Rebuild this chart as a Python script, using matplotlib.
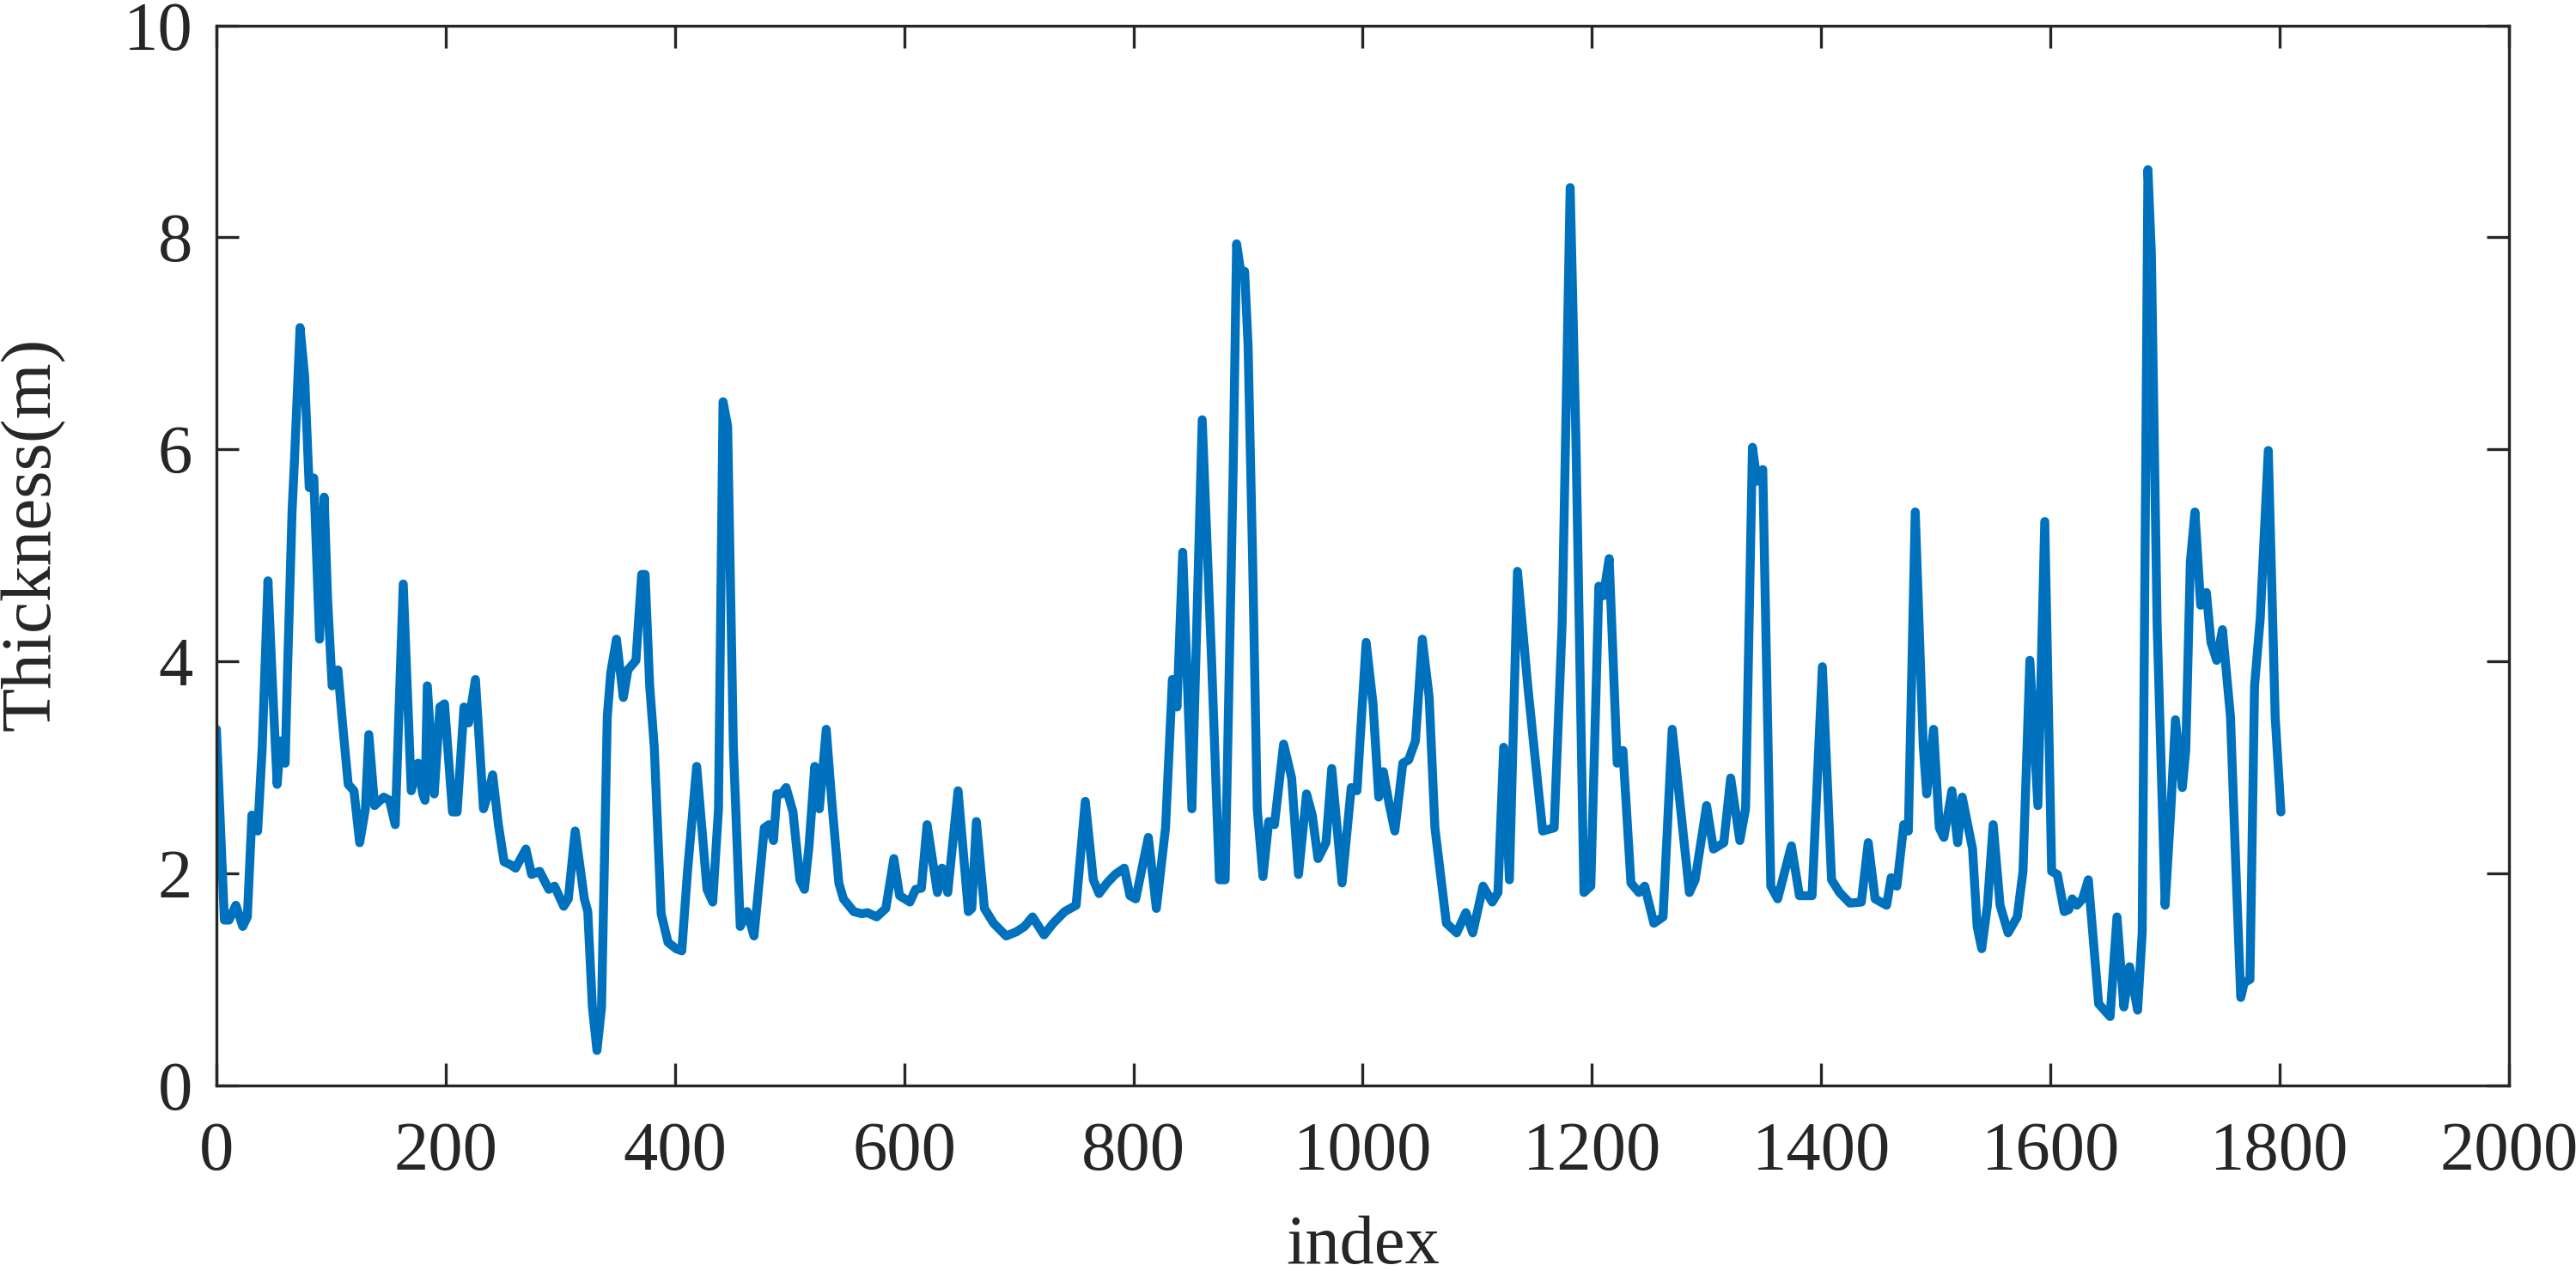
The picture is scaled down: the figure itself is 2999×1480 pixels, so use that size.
import matplotlib
matplotlib.use("Agg")
import matplotlib.pyplot as plt

plt.rcParams['font.family'] = ['Liberation Serif', 'DejaVu Serif']

# index / thickness
idx = [0, 7, 11, 17, 23, 27, 31, 36, 40, 45, 49, 53, 56, 60, 62, 66, 68, 73, 77, 81,
       85, 90, 94, 97, 101, 106, 110, 115, 120, 125, 130, 133, 138, 146, 151, 156, 163, 170, 176, 180,
       182, 184, 190, 195, 199, 206, 210, 216, 220, 226, 233, 237, 241, 246, 251, 257, 261, 270, 275, 282,
       290, 295, 303, 307, 313, 321, 324, 328, 332, 336, 341, 344, 349, 355, 359, 366, 371, 374, 378, 382,
       388, 394, 401, 406, 411, 419, 428, 433, 438, 442, 446, 451, 457, 463, 469, 478, 482, 486, 489, 493,
       497, 503, 509, 513, 517, 522, 526, 532, 537, 543, 547, 556, 563, 568, 576, 584, 591, 596, 605, 610,
       615, 620, 629, 633, 638, 647, 656, 659, 663, 670, 678, 689, 698, 705, 712, 722, 730, 740, 750, 758,
       765, 770, 777, 784, 792, 797, 802, 813, 820, 828, 834, 838, 843, 851, 860, 868, 875, 880, 887, 890,
       894, 897, 900, 904, 908, 913, 918, 923, 931, 938, 944, 951, 956, 961, 968, 973, 982, 990, 995, 1003,
       1009, 1014, 1018, 1023, 1028, 1035, 1040, 1046, 1052, 1058, 1063, 1073, 1082, 1090, 1096, 1105, 1113, 1118, 1123, 1128,
       1135, 1144, 1150, 1157, 1167, 1174, 1181, 1186, 1193, 1199, 1206, 1210, 1215, 1222, 1227, 1234, 1241, 1246, 1254, 1262,
       1270, 1285, 1290, 1300, 1306, 1315, 1321, 1329, 1334, 1340, 1344, 1349, 1356, 1362, 1374, 1381, 1392, 1401, 1409, 1416,
       1425, 1435, 1441, 1447, 1457, 1461, 1466, 1472, 1476, 1482, 1489, 1492, 1498, 1503, 1507, 1514, 1519, 1523, 1532, 1536,
       1540, 1545, 1550, 1556, 1563, 1571, 1576, 1582, 1589, 1595, 1601, 1606, 1612, 1616, 1619, 1623, 1628, 1633, 1642, 1652,
       1658, 1664, 1669, 1676, 1680, 1685, 1688, 1693, 1700, 1705, 1709, 1715, 1718, 1722, 1726, 1731, 1736, 1740, 1745, 1750,
       1757, 1762, 1766, 1769, 1774, 1778, 1783, 1790, 1796, 1801]

thickness = [3.36, 1.56, 1.56, 1.70, 1.50, 1.59, 2.55, 2.40, 3.19, 4.76, 3.77, 2.84, 3.25, 3.04, 3.89, 5.41, 5.87, 7.15, 6.69, 5.64,
             5.73, 4.21, 5.55, 4.59, 3.77, 3.92, 3.42, 2.84, 2.78, 2.29, 2.61, 3.31, 2.64, 2.72, 2.69, 2.46, 4.73, 2.78, 3.04, 2.75,
             2.69, 3.77, 2.75, 3.57, 3.60, 2.58, 2.58, 3.57, 3.42, 3.83, 2.61, 2.75, 2.93, 2.46, 2.11, 2.08, 2.05, 2.23, 1.99, 2.02,
             1.85, 1.88, 1.69, 1.76, 2.40, 1.76, 1.64, 0.74, 0.33, 0.74, 3.48, 3.89, 4.21, 3.66, 3.92, 4.01, 4.82, 4.82, 3.77, 3.19,
             1.62, 1.35, 1.29, 1.27, 2.02, 3.01, 1.85, 1.73, 2.61, 6.45, 6.22, 3.19, 1.50, 1.64, 1.41, 2.43, 2.46, 2.31, 2.75, 2.75,
             2.81, 2.58, 1.94, 1.85, 2.26, 3.01, 2.61, 3.36, 2.66, 1.91, 1.76, 1.64, 1.62, 1.63, 1.59, 1.67, 2.14, 1.79, 1.73, 1.85,
             1.86, 2.46, 1.82, 2.05, 1.82, 2.78, 1.64, 1.67, 2.49, 1.67, 1.53, 1.41, 1.45, 1.50, 1.59, 1.42, 1.53, 1.64, 1.70, 2.68,
             1.94, 1.81, 1.91, 1.99, 2.05, 1.79, 1.76, 2.34, 1.67, 2.43, 3.83, 3.57, 5.03, 2.61, 6.28, 4.06, 1.94, 1.94, 5.81, 7.94,
             7.65, 7.68, 6.98, 4.94, 2.61, 1.97, 2.49, 2.46, 3.22, 2.90, 1.99, 2.75, 2.55, 2.14, 2.29, 2.99, 1.91, 2.81, 2.78, 4.18,
             3.60, 2.72, 2.96, 2.66, 2.40, 3.04, 3.07, 3.25, 4.21, 3.66, 2.43, 1.53, 1.44, 1.63, 1.44, 1.88, 1.73, 1.82, 3.19, 1.94,
             4.85, 3.77, 3.13, 2.40, 2.43, 4.36, 8.47, 6.10, 1.82, 1.88, 4.71, 4.62, 4.97, 3.04, 3.16, 1.91, 1.82, 1.88, 1.53, 1.59,
             3.36, 1.82, 1.94, 2.64, 2.23, 2.29, 2.90, 2.31, 2.61, 6.02, 5.70, 5.81, 1.88, 1.76, 2.26, 1.79, 1.79, 3.95, 1.94, 1.82,
             1.72, 1.73, 2.29, 1.76, 1.70, 1.96, 1.88, 2.46, 2.40, 5.41, 3.20, 2.75, 3.36, 2.43, 2.34, 2.78, 2.29, 2.72, 2.23, 1.50,
             1.29, 1.70, 2.46, 1.70, 1.44, 1.59, 2.02, 4.01, 2.64, 5.32, 2.02, 1.99, 1.64, 1.66, 1.76, 1.70, 1.76, 1.94, 0.77, 0.65,
             1.59, 0.74, 1.12, 0.71, 1.44, 8.64, 7.85, 4.36, 1.70, 2.61, 3.45, 2.81, 3.16, 4.94, 5.41, 4.53, 4.65, 4.18, 4.01, 4.30,
             3.48, 1.97, 0.83, 0.97, 1.00, 3.77, 4.41, 5.99, 3.48, 2.58]

xticks = [0, 200, 400, 600, 800, 1000, 1200, 1400, 1600, 1800, 2000]
yticks = [0, 2, 4, 6, 8, 10]

dark = '#262626'

fig = plt.figure(figsize=(29.99, 14.80), dpi=100, facecolor='white')
ax = fig.add_axes([0.084, 0.146, 0.890, 0.834])

ax.plot(idx, thickness, color='#0072BD', linewidth=7.5,
        solid_joinstyle='round', solid_capstyle='round')

ax.set_xlim(0, 2000)
ax.set_ylim(0, 10)
ax.set_xticks(xticks)
ax.set_yticks(yticks)

for s in ax.spines.values():
    s.set_linewidth(2.4)
    s.set_color(dark)
ax.tick_params(direction='in', length=19, width=2.4, colors=dark,
               labelsize=58, top=True, right=True)
ax.tick_params(axis='x', pad=30)
ax.tick_params(axis='y', pad=20)

ax.set_xlabel('index', fontsize=58, color=dark)
ax.set_ylabel('Thickness(m)', fontsize=60, color=dark)
ax.xaxis.set_label_coords(0.5, -0.122)
ax.yaxis.set_label_coords(-0.066, 0.52)

fig.savefig('out.png', dpi=100, facecolor='white')
